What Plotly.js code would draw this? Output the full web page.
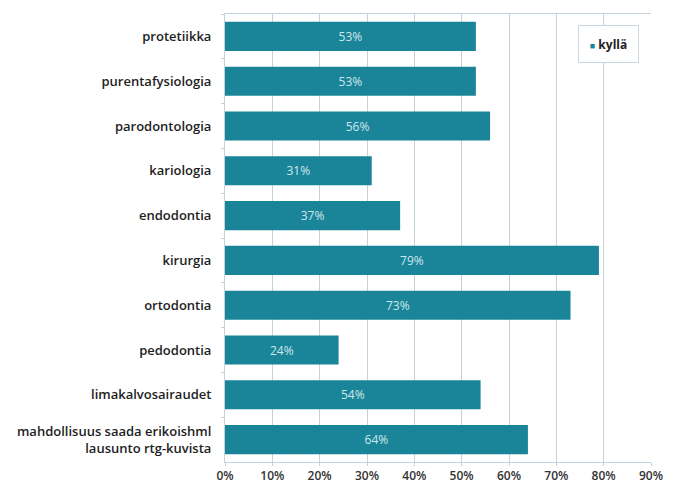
<!DOCTYPE html>
<html>
<head>
<meta charset="utf-8">
<script src="https://cdn.plot.ly/plotly-3.0.1.min.js"></script>
<style>body{margin:0;background:#fff}#chart{width:679px;height:490px}</style>
</head>
<body>
<div id="chart"></div>
<script>
const categories = [
  "protetiikka",
  "purentafysiologia",
  "parodontologia",
  "kariologia",
  "endodontia",
  "kirurgia",
  "ortodontia",
  "pedodontia",
  "limakalvosairaudet",
  "mahdollisuus saada erikoishml<br>lausunto rtg-kuvista"
];
const values = [53, 53, 56, 31, 37, 79, 73, 24, 54, 64];
const seriesName = "kyllä";
const xTickVals = [0, 10, 20, 30, 40, 50, 60, 70, 80, 90];
const xTickText = ["0%", "10%", "20%", "30%", "40%", "50%", "60%", "70%", "80%", "90%"];

const barColor = "#1a8599";

const trace = {
  type: "bar",
  orientation: "h",
  name: seriesName,
  x: values,
  y: categories,
  marker: {color: barColor, line: {width: 0}},
  text: values.map(v => v + "%"),
  textposition: "inside",
  insidetextanchor: "middle",
  textangle: 0,
  textfont: {family: "'Open Sans', sans-serif", size: 12, color: "#cfe7ec"},
  hoverinfo: "none",
  showlegend: false
};

const layout = {
  width: 679,
  height: 490,
  margin: {l: 225, r: 28, t: 14, b: 28},
  paper_bgcolor: "#ffffff",
  plot_bgcolor: "#ffffff",
  bargap: 0.35,
  font: {family: "'Open Sans', sans-serif", color: "#222", size: 12},
  showlegend: false,
  annotations: [{
    xref: "paper", yref: "paper",
    x: 0.9718, y: 0.975, xanchor: "right", yanchor: "top",
    text: "<span style='color:" + barColor + "; font-size:9px'>■</span> <b>" + seriesName + "</b>",
    showarrow: false,
    width: 57, height: 34,
    align: "center", valign: "middle",
    bordercolor: "#c9d6de", borderwidth: 1, borderpad: 1,
    bgcolor: "#ffffff",
    font: {family: "'Open Sans', sans-serif", size: 12, color: "#222"}
  }],
  xaxis: {
    range: [0, 90],
    tickvals: xTickVals,
    ticktext: xTickText,
    showgrid: true,
    gridcolor: "#c3d3dd",
    gridwidth: 1,
    zeroline: false,
    showline: true,
    linecolor: "#c3d3dd",
    mirror: true,
    ticks: "outside",
    ticklen: 3,
    tickcolor: "#c3d3dd",
    tickfont: {size: 12, color: "#333", weight: 600},
    fixedrange: true
  },
  yaxis: {
    autorange: "reversed",
    type: "category",
    showgrid: false,
    showline: true,
    linecolor: "#c3d3dd",
    ticks: "outside",
    tickson: "boundaries",
    ticklen: 3,
    tickcolor: "#c3d3dd",
    ticklabelstandoff: 10,
    tickfont: {size: 13, color: "#1e1e1e", weight: 600},
    fixedrange: true
  }
};

Plotly.newPlot("chart", [trace], layout, {displayModeBar: false, staticPlot: true});
</script>
</body>
</html>
